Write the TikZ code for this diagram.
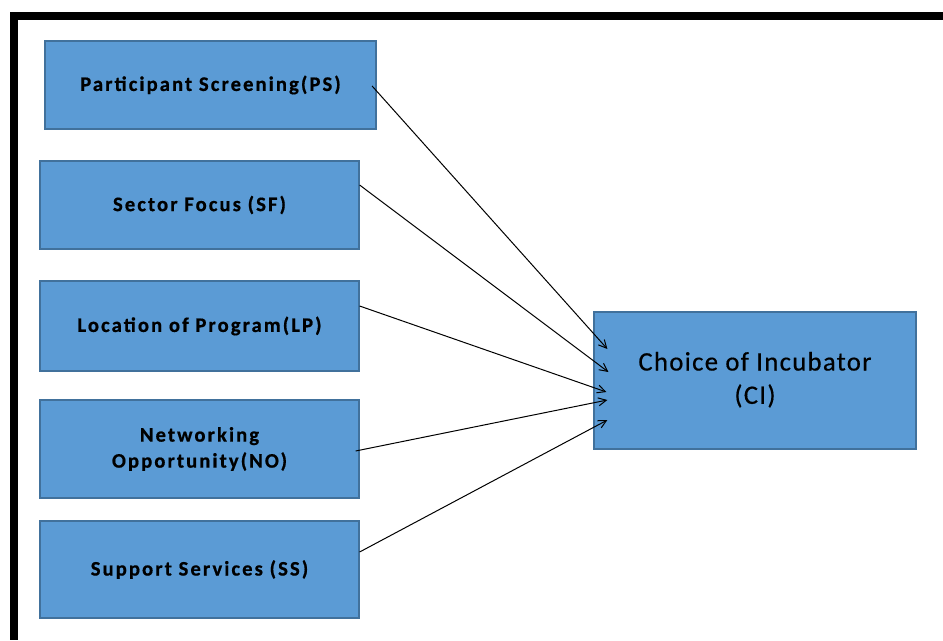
\documentclass[tikz,border=0pt]{standalone}
\usepackage{fontspec}
\setmainfont{Carlito}
\newfontfamily\labelfont[LetterSpace=10,FakeBold=0.6]{Carlito Bold}
\newfontfamily\titlefont[LetterSpace=5,FakeBold=0.5]{Carlito}
\usetikzlibrary{arrows.meta,calc}
\definecolor{boxfill}{HTML}{5B9BD5}
\definecolor{boxline}{HTML}{41719C}
\tikzset{
  factor/.style={draw=boxline, fill=boxfill, line width=0.9pt, inner sep=0pt,
    align=center, font=\labelfont\fontsize{15.5}{19.5}\selectfont, text=black},
  outcome/.style={factor, font=\titlefont\fontsize{20}{25}\selectfont},
  link/.style={line width=0.75pt, -{Straight Barb[length=6pt,width=6pt]}}
}
\begin{document}
\begin{tikzpicture}[x=0.75pt,y=-0.75pt]
\useasboundingbox (0,0) rectangle (943,640);
% frame along the top and left edges
\fill (10,12) rectangle (943,20);
\fill (10,12) rectangle (18,640);
% factor boxes
\node[factor, minimum width=248.25pt, minimum height=66pt] (ps) at (210.5,85) {\raisebox{-2pt}{Participant Screening(PS)}};
\node[factor, minimum width=239.25pt, minimum height=66pt] (sf) at (199.5,205) {\raisebox{-1.5pt}{Sector Focus (SF)}};
\node[factor, minimum width=239.25pt, minimum height=67.5pt] (lp) at (199.5,326) {Location of Program(LP)};
\node[factor, minimum width=239.25pt, minimum height=73.5pt] (no) at (199.5,449) {Networking\\Opportunity(NO)};
\node[factor, minimum width=239.25pt, minimum height=72.75pt] (ss) at (199.5,569.5) {Support Services (SS)};
% outcome box, text set a little below centre
\node[outcome, minimum width=241.5pt, minimum height=102.75pt] (ci) at (755,380.5)
  {\raisebox{-3pt}{\begin{tabular}{@{}c@{}}Choice of Incubator\\(CI)\end{tabular}}};
% connectors
\draw[link] ($(ps.east)+(-4.5,1)$) -- ($(ci.west)+(14,-31.5)$);
\draw[link] ($(sf.east)+(0,-20)$) -- ($(ci.west)+(15,-8.5)$);
\draw[link] ($(lp.east)+(0,-20)$) -- ($(ci.west)+(13,11.5)$);
\draw[link] ($(no.east)+(-4,2)$) -- ($(ci.west)+(14,19.5)$);
\draw[link] ($(ss.east)+(0,-17.5)$) -- ($(ci.west)+(14,39.5)$);
\end{tikzpicture}
\end{document}
